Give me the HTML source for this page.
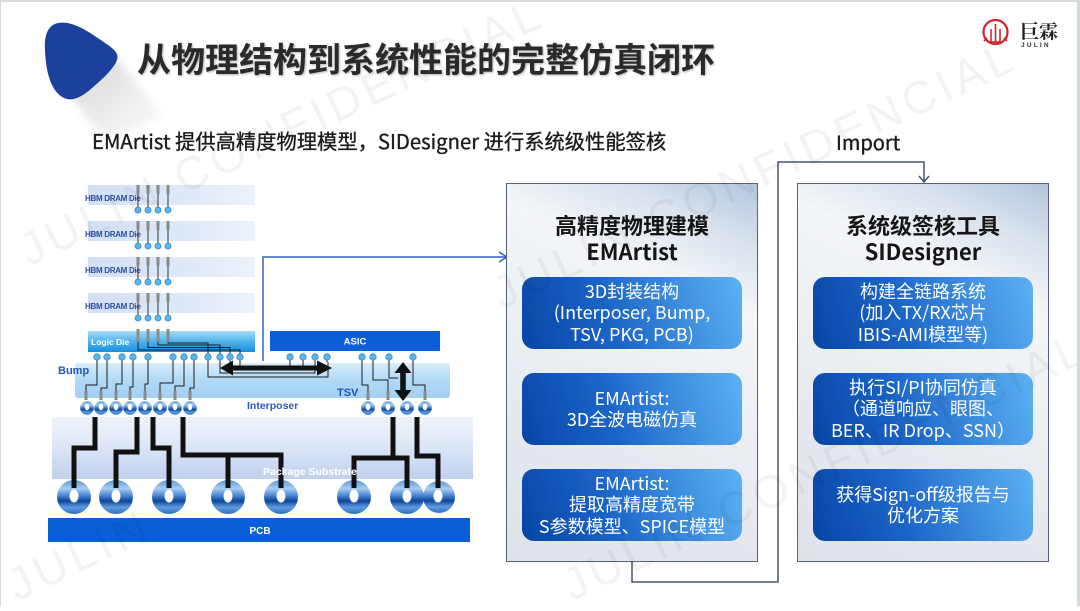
<!DOCTYPE html>
<html><head><meta charset="utf-8">
<style>
*{box-sizing:border-box}
body{margin:0;width:1080px;height:606px;position:relative;overflow:hidden;background:#fff;font-family:"Noto Sans CJK SC","Liberation Sans",sans-serif}
.abs{position:absolute}
.panel{position:absolute;top:183px;width:252px;height:379px;border:1.5px solid #586273;
background:linear-gradient(205deg,#b3c5dc 0%,#d9e2ed 13%,#f4f6f9 27%,#edf0f4 45%,#e5e9ef 72%,#dee3ea 100%)}
.ptitle{position:absolute;left:0;width:100%;text-align:center;font-weight:700;font-size:22px;line-height:26px;color:#151515}
.box{position:absolute;width:220px;height:72px;border-radius:12px;color:#fff;font-size:18px;line-height:21.5px;
display:flex;flex-direction:column;align-items:center;justify-content:center;text-align:center;white-space:nowrap;
background:linear-gradient(72deg,#0745a6 0%,#1b64c6 40%,#3f8fe0 72%,#5cb1f2 100%)}
.wm{position:absolute;font-family:"Liberation Sans",sans-serif;font-size:46px;letter-spacing:5px;color:rgba(0,0,0,0.048);white-space:nowrap;transform-origin:0 50%;transform:rotate(-25deg)}
</style></head><body>

<svg class="abs" style="left:0;top:0" width="1080" height="606" viewBox="0 0 1080 606">
<defs>
<linearGradient id="gDie" x1="0" x2="1" y1="0" y2="0"><stop offset="0" stop-color="#d2e0f6"/><stop offset="0.6" stop-color="#dfe9f8"/><stop offset="1" stop-color="#edf2fb"/></linearGradient>
<linearGradient id="gLogic" x1="0" x2="0" y1="0" y2="1"><stop offset="0" stop-color="#a6dcf7"/><stop offset="0.5" stop-color="#4fb3ec"/><stop offset="1" stop-color="#168fdd"/></linearGradient>
<linearGradient id="gInt" x1="0" x2="0" y1="0" y2="1"><stop offset="0" stop-color="#d8edfb"/><stop offset="0.5" stop-color="#b0d9f5"/><stop offset="1" stop-color="#a2d0f2"/></linearGradient>
<linearGradient id="gSub" x1="0" x2="0" y1="0" y2="1"><stop offset="0" stop-color="#f0f4fb"/><stop offset="0.45" stop-color="#dde7f7"/><stop offset="1" stop-color="#bfd1ee"/></linearGradient>
<linearGradient id="gBall" x1="0" x2="0" y1="0" y2="1"><stop offset="0" stop-color="#5a95d8"/><stop offset="0.25" stop-color="#a9cdf0"/><stop offset="0.45" stop-color="#4a88d4"/><stop offset="0.62" stop-color="#0f4499"/><stop offset="0.8" stop-color="#5d9be0"/><stop offset="1" stop-color="#2f6fc4"/></linearGradient>
<linearGradient id="gShadow" x1="0" x2="1" y1="0" y2="1"><stop offset="0" stop-color="#000" stop-opacity="0.16"/><stop offset="1" stop-color="#000" stop-opacity="0"/></linearGradient>
<filter id="blur" x="-20%" y="-20%" width="140%" height="140%"><feGaussianBlur stdDeviation="4"/></filter>
</defs>

<!-- title blob -->
<polygon points="70,95 116,58 165,118 105,140" fill="url(#gShadow)" filter="url(#blur)"/>
<path d="M58 23 C48 25 44 35 45 50 C46 75 52 92 64 98 C72 102 82 97 92 88 C104 78 114 68 117 60 C119 54 115 50 108 45 C92 34 74 20 58 23 Z" fill="#1c419c"/>

<!-- logo -->
<circle cx="995.5" cy="32" r="12" fill="none" stroke="#d2232a" stroke-width="2.2"/>
<g stroke="#d2232a" stroke-width="1.6">
<line x1="995.5" y1="24" x2="995.5" y2="42"/><line x1="991" y1="29" x2="991" y2="42"/><line x1="1000" y1="29" x2="1000" y2="42"/>
<line x1="987" y1="38" x2="984" y2="41"/><line x1="1004" y1="38" x2="1007" y2="41"/>
<line x1="988" y1="42" x2="1003" y2="42"/>
</g>
<text x="1020" y="38" font-family="Noto Serif CJK SC,serif" font-size="19" font-weight="700" fill="#222">巨霖</text>
<text x="1021" y="47" font-family="Liberation Sans,sans-serif" font-size="6.5" letter-spacing="2.2" fill="#333" font-weight="700">JULIN</text>

<!-- HBM dies -->
<g font-family="Liberation Sans,sans-serif" font-weight="700">
<rect x="88" y="185" width="167" height="20" fill="url(#gDie)"/>
<rect x="88" y="221" width="167" height="20" fill="url(#gDie)"/>
<rect x="88" y="257" width="167" height="20" fill="url(#gDie)"/>
<rect x="88" y="293" width="167" height="20" fill="url(#gDie)"/>
<text x="85" y="201" font-size="8" fill="#2d4f9e" letter-spacing="-0.3">HBM DRAM Die</text>
<text x="85" y="237" font-size="8" fill="#2d4f9e" letter-spacing="-0.3">HBM DRAM Die</text>
<text x="85" y="273" font-size="8" fill="#2d4f9e" letter-spacing="-0.3">HBM DRAM Die</text>
<text x="85" y="309" font-size="8" fill="#2d4f9e" letter-spacing="-0.3">HBM DRAM Die</text>
</g>
<g>
<g fill="#8a8a8a">
<rect x="136.5" y="185" width="3" height="9"/><rect x="146.5" y="185" width="3" height="9"/><rect x="156.5" y="185" width="3" height="9"/><rect x="166.5" y="185" width="3" height="9"/>
<rect x="136.5" y="221" width="3" height="9"/><rect x="146.5" y="221" width="3" height="9"/><rect x="156.5" y="221" width="3" height="9"/><rect x="166.5" y="221" width="3" height="9"/>
<rect x="136.5" y="257" width="3" height="9"/><rect x="146.5" y="257" width="3" height="9"/><rect x="156.5" y="257" width="3" height="9"/><rect x="166.5" y="257" width="3" height="9"/>
<rect x="136.5" y="293" width="3" height="9"/><rect x="146.5" y="293" width="3" height="9"/><rect x="156.5" y="293" width="3" height="9"/><rect x="166.5" y="293" width="3" height="9"/>
</g>
<g stroke="#333" stroke-width="1">
<path d="M138 194V207M148 194V207M158 194V207M168 194V207M138 230V243M148 230V243M158 230V243M168 230V243M138 266V279M148 266V279M158 266V279M168 266V279M138 302V315M148 302V315M158 302V315M168 302V315"/>
</g>
<g fill="#5cb6ee" stroke="#2b86cf" stroke-width="0.8">
<circle cx="138" cy="210" r="3"/><circle cx="148" cy="210" r="3"/><circle cx="158" cy="210" r="3"/><circle cx="168" cy="210" r="3"/>
<circle cx="138" cy="246" r="3"/><circle cx="148" cy="246" r="3"/><circle cx="158" cy="246" r="3"/><circle cx="168" cy="246" r="3"/>
<circle cx="138" cy="282" r="3"/><circle cx="148" cy="282" r="3"/><circle cx="158" cy="282" r="3"/><circle cx="168" cy="282" r="3"/>
<circle cx="138" cy="318" r="3"/><circle cx="148" cy="318" r="3"/><circle cx="158" cy="318" r="3"/><circle cx="168" cy="318" r="3"/>
</g>
</g>

<!-- Logic die & ASIC -->
<rect x="88" y="331" width="167" height="21" fill="url(#gLogic)"/>
<text x="91" y="345" font-family="Liberation Sans,sans-serif" font-weight="700" font-size="8.5" fill="#fff">Logic Die</text>
<g fill="#8a8a8a"><rect x="136.5" y="329" width="3" height="13"/><rect x="146.5" y="329" width="3" height="13"/><rect x="156.5" y="329" width="3" height="13"/><rect x="166.5" y="329" width="3" height="13"/></g>
<rect x="270" y="331" width="170" height="20" fill="#0b5fd9"/>
<text x="355" y="344.5" text-anchor="middle" font-family="Liberation Sans,sans-serif" font-weight="700" font-size="9.5" fill="#fff">ASIC</text>

<!-- Interposer -->
<rect x="75" y="363" width="375" height="35" rx="3" fill="url(#gInt)"/>

<!-- blue connector -->
<polyline points="263,361 263,257 506,257" fill="none" stroke="#2d64c3" stroke-width="1.5"/>
<polyline points="499,252 507,257 499,262" fill="none" stroke="#2d64c3" stroke-width="1.5"/>

<!-- thin wires -->
<g fill="none" stroke="#1e1e1e" stroke-width="1">
<path d="M138 342V350H240V357M148 342V347.5H230V357M158 342V345H220V357M168 342V343H208V357"/>
<path d="M97 362V385H86V391M107 362V388H101V391M122 362V384H116V391M133 362V387H130V391M148 362V384H145V391M173 362V383H160V391M184 362V386H175V391M194 362V388H190V391"/>
<path d="M208 362V377H328V362M220 362V373H315V362M230 362V370H303V362M240 362V367H290V362"/>
<path d="M362 362V385H368V391M373 362V380H388V391M389 362V378H398M413 362V385H425V391"/>
<path d="M97 357V362M107 357V362M122 357V362M133 357V362M148 357V362M173 357V362M184 357V362M194 357V362M208 357V362M220 357V362M230 357V362M240 357V362M290 357V362M303 357V362M315 357V362M327 357V362M362 357V362M373 357V362M389 357V362M413 357V362"/>
</g>
<g fill="#5cb6ee" stroke="#2b86cf" stroke-width="0.8">
<circle cx="97" cy="357" r="3.2"/><circle cx="107" cy="357" r="3.2"/><circle cx="122" cy="357" r="3.2"/><circle cx="133" cy="357" r="3.2"/><circle cx="148" cy="357" r="3.2"/><circle cx="173" cy="357" r="3.2"/><circle cx="184" cy="357" r="3.2"/><circle cx="194" cy="357" r="3.2"/><circle cx="208" cy="357" r="3.2"/><circle cx="220" cy="357" r="3.2"/><circle cx="230" cy="357" r="3.2"/><circle cx="240" cy="357" r="3.2"/>
<circle cx="290" cy="357" r="3.2"/><circle cx="303" cy="357" r="3.2"/><circle cx="315" cy="357" r="3.2"/><circle cx="327" cy="357" r="3.2"/><circle cx="362" cy="357" r="3.2"/><circle cx="373" cy="357" r="3.2"/><circle cx="389" cy="357" r="3.2"/><circle cx="413" cy="357" r="3.2"/>
</g>
<!-- arrows black -->
<path d="M220 368 L233 360.5 L233 365.5 L317 365.5 L317 360.5 L332 368 L317 375.5 L317 370.5 L233 370.5 L233 375.5 Z" fill="#111"/>
<path d="M403 362 L411.5 373 L405.8 373 L405.8 390 L411.5 390 L403 401 L394.5 390 L400.2 390 L400.2 373 L394.5 373 Z" fill="#111"/>
<!-- TSV stubs -->
<g fill="#8a8a8a">
<rect x="84.5" y="391" width="3" height="9"/><rect x="99.5" y="391" width="3" height="9"/><rect x="114.5" y="391" width="3" height="9"/><rect x="128.5" y="391" width="3" height="9"/><rect x="143.5" y="391" width="3" height="9"/><rect x="158.5" y="391" width="3" height="9"/><rect x="173.5" y="391" width="3" height="9"/><rect x="188.5" y="391" width="3" height="9"/>
<rect x="366.5" y="391" width="3" height="9"/><rect x="386.5" y="391" width="3" height="9"/><rect x="423.5" y="391" width="3" height="9"/>
</g>
<!-- interposer balls -->
<g>
<g fill="url(#gBall)">
<circle cx="87" cy="408" r="6.8"/><circle cx="101" cy="408" r="6.8"/><circle cx="116" cy="408" r="6.8"/><circle cx="130" cy="408" r="6.8"/><circle cx="145" cy="408" r="6.8"/><circle cx="160" cy="408" r="6.8"/><circle cx="175" cy="408" r="6.8"/><circle cx="190" cy="408" r="6.8"/>
<circle cx="368" cy="408" r="6.8"/><circle cx="388" cy="408" r="6.8"/><circle cx="407" cy="408" r="6.8"/><circle cx="425" cy="408" r="6.8"/>
</g>
<g fill="#fff">
<ellipse cx="87" cy="407" rx="2.3" ry="3.2"/><ellipse cx="101" cy="407" rx="2.3" ry="3.2"/><ellipse cx="116" cy="407" rx="2.3" ry="3.2"/><ellipse cx="130" cy="407" rx="2.3" ry="3.2"/><ellipse cx="145" cy="407" rx="2.3" ry="3.2"/><ellipse cx="160" cy="407" rx="2.3" ry="3.2"/><ellipse cx="175" cy="407" rx="2.3" ry="3.2"/><ellipse cx="190" cy="407" rx="2.3" ry="3.2"/>
<ellipse cx="368" cy="407" rx="2.3" ry="3.2"/><ellipse cx="388" cy="407" rx="2.3" ry="3.2"/><ellipse cx="407" cy="407" rx="2.3" ry="3.2"/><ellipse cx="425" cy="407" rx="2.3" ry="3.2"/>
</g>
</g>
<g font-family="Liberation Sans,sans-serif" font-weight="700">
<text x="58" y="374" font-size="11" fill="#1f56b3">Bump</text>
<text x="337" y="396" font-size="11" fill="#1f56b3">TSV</text>
<text x="247" y="409" font-size="10.5" fill="#2a5cb8">Interposer</text>
</g>

<!-- Package substrate -->
<rect x="52" y="417" width="421" height="62" fill="url(#gSub)"/>
<g fill="url(#gBall)">
<circle cx="74" cy="497" r="17"/><circle cx="116" cy="497" r="17"/><circle cx="169" cy="497" r="17"/><circle cx="228" cy="497" r="17"/><circle cx="281" cy="497" r="17"/><circle cx="354" cy="497" r="17"/><circle cx="407" cy="497" r="17"/><circle cx="439" cy="497" r="16"/>
</g>
<g fill="none" stroke="#111" stroke-width="5" stroke-linejoin="miter">
<path d="M95 417V448H74V488"/>
<path d="M137 417V452H116V488"/>
<path d="M153 417V448H169V488"/>
<path d="M183 417V455H281V488M228 455V488"/>
<path d="M393 417V458H354V488M393 458H407V488"/>
<path d="M417 417V456H438V488"/>
</g>
<g fill="#fff">
<ellipse cx="74" cy="496" rx="4.5" ry="6.5"/><ellipse cx="116" cy="496" rx="4.5" ry="6.5"/><ellipse cx="169" cy="496" rx="4.5" ry="6.5"/><ellipse cx="228" cy="496" rx="4.5" ry="6.5"/><ellipse cx="281" cy="496" rx="4.5" ry="6.5"/><ellipse cx="354" cy="496" rx="4.5" ry="6.5"/><ellipse cx="407" cy="496" rx="4.5" ry="6.5"/><ellipse cx="438" cy="496" rx="4.5" ry="6.5"/>
</g>
<text x="263" y="475" font-family="Liberation Sans,sans-serif" font-weight="700" font-size="10.5" fill="#fff">Package Substrate</text>
<!-- PCB -->
<rect x="48" y="518" width="422" height="24" fill="#0b5fd6"/>
<text x="260" y="534" text-anchor="middle" font-family="Liberation Sans,sans-serif" font-weight="700" font-size="10" fill="#fff">PCB</text>

<!-- panel connectors -->
<g fill="none" stroke="#4a5466" stroke-width="1.5">
<polyline points="632,562 632,582 778,582 778,162 924,162 924,182"/>
<polyline points="919,176 924,182 929,176"/>
<line x1="633" y1="349" x2="633" y2="371"/><polyline points="628.5,365 633,371 637.5,365"/>
<line x1="633" y1="445" x2="633" y2="467"/><polyline points="628.5,461 633,467 637.5,461"/>
<line x1="923" y1="349" x2="923" y2="371"/><polyline points="918.5,365 923,371 927.5,365"/>
<line x1="923" y1="445" x2="923" y2="467"/><polyline points="918.5,461 923,467 927.5,461"/>
</g>
</svg>

<!-- titles -->
<div class="abs" style="left:137px;top:37px;font-size:34px;line-height:42px;font-weight:700;color:#2a2a2a;white-space:nowrap;text-shadow:1px 1px 2px rgba(0,0,0,0.3)">从物理结构到系统性能的完整仿真闭环</div>
<div class="abs" style="left:92px;top:126px;font-size:20.3px;line-height:28px;color:#1a1a1a;white-space:nowrap;-webkit-text-stroke:0.35px #1a1a1a">EMArtist 提供高精度物理模型，SIDesigner 进行系统级性能签核</div>
<div class="abs" style="left:836px;top:128px;font-size:20px;line-height:28px;color:#1a1a1a;white-space:nowrap;-webkit-text-stroke:0.35px #1a1a1a">Import</div>

<!-- panels -->
<div class="panel" style="left:506px">
  <div class="ptitle" style="top:28px">高精度物理建模</div>
  <div class="ptitle" style="top:54px">EMArtist</div>
</div>
<div class="panel" style="left:797px">
  <div class="ptitle" style="top:28px">系统级签核工具</div>
  <div class="ptitle" style="top:54px">SIDesigner</div>
</div>

<div class="box" style="left:522px;top:277px"><div>3D封装结构</div><div>(Interposer, Bump,</div><div>TSV, PKG, PCB)</div></div>
<div class="box" style="left:522px;top:373px"><div>EMArtist:</div><div>3D全波电磁仿真</div></div>
<div class="box" style="left:522px;top:469px"><div>EMArtist:</div><div>提取高精度宽带</div><div>S参数模型、SPICE模型</div></div>

<div class="box" style="left:813px;top:277px"><div>构建全链路系统</div><div>(加入TX/RX芯片</div><div>IBIS-AMI模型等)</div></div>
<div class="box" style="left:813px;top:373px"><div>执行SI/PI协同仿真</div><div>（通道响应、眼图、</div><div>BER、IR Drop、SSN）</div></div>
<div class="box" style="left:813px;top:469px"><div>获得Sign-off级报告与</div><div>优化方案</div></div>

<!-- watermarks -->
<div class="wm" style="left:22px;top:225px">JULIN CONFIDENCIAL</div>
<div class="wm" style="left:495px;top:268px">JULIN CONFIDENCIAL</div>
<div class="wm" style="left:565px;top:560px">JULIN CONFIDENCIAL</div>
<div class="wm" style="left:10px;top:560px">JULIN</div>

<!-- frame -->
<div class="abs" style="left:0;top:0;width:1080px;height:606px;border-top:2px solid #d6dbda;border-left:1px solid #d6dbda;border-right:3px solid #d6dbda"></div>
</body></html>
